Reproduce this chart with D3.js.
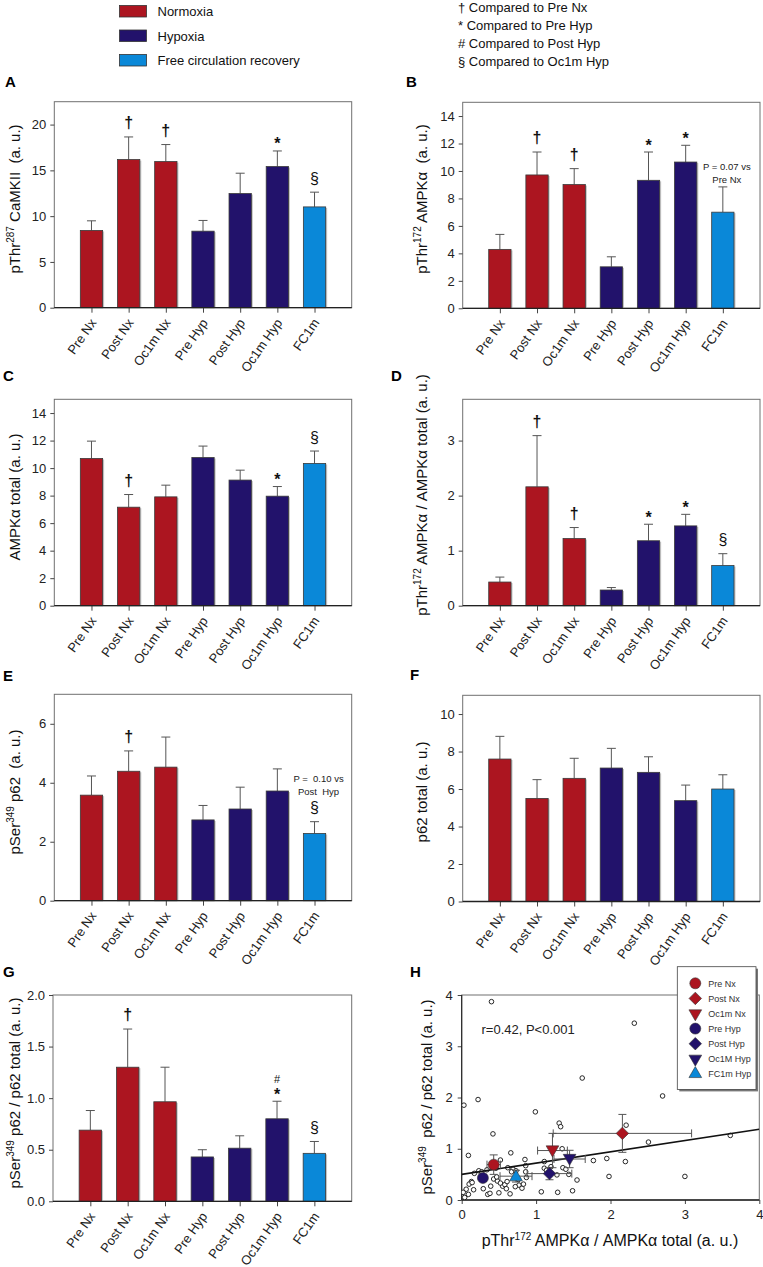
<!DOCTYPE html>
<html><head><meta charset="utf-8">
<script src="https://cdn.jsdelivr.net/npm/d3@7"></script>
<style>
body{margin:0;background:#fff;}
svg text{font-family:"Liberation Sans",Arial,Helvetica,sans-serif;}
</style></head><body>
<svg id="c" width="763" height="1267"></svg>
<script>
// ---------- DATA ----------
const categories = ["Pre Nx","Post Nx","Oc1m Nx","Pre Hyp","Post Hyp","Oc1m Hyp","FC1m"];
const groups = ["Normoxia","Normoxia","Normoxia","Hypoxia","Hypoxia","Hypoxia","Free circulation recovery"];
const legendLabels = ["Normoxia","Hypoxia","Free circulation recovery"];
const sigLegend = ["† Compared to Pre Nx","* Compared to Pre Hyp","# Compared to Post Hyp","§ Compared to Oc1m Hyp"];

// A: pThr287 CaMKII
const camkiiMean = [8.44,16.18,15.96,8.36,12.47,15.42,11.01];
const camkiiSem  = [1.05,2.47,1.86,1.17,2.22,1.70,1.61];
const camkiiSig  = ["","†","†","","","*","§"];
const camkiiTicks = [0,5,10,15,20];
// B: pThr172 AMPKa
const pAmpkMean = [4.29,9.71,9.01,3.02,9.32,10.65,7.00];
const pAmpkSem  = [1.09,1.67,1.16,0.73,2.06,1.22,1.84];
const pAmpkSig  = ["","†","†","","*","*",""];
const pAmpkTicks = [0,2,4,6,8,10,12,14];
const pAmpkNote = ["P = 0.07 vs","Pre Nx"];
// C: AMPKa total
const ampkMean = [10.70,7.16,7.91,10.77,9.13,7.96,10.34];
const ampkSem  = [1.26,0.92,0.85,0.83,0.72,0.70,0.90];
const ampkSig  = ["","†","","","","*","§"];
const ampkTicks = [0,2,4,6,8,10,12,14];
// D: pThr172 AMPKa / AMPKa total
const ratioAmpkMean = [0.43,2.16,1.22,0.285,1.18,1.45,0.73];
const ratioAmpkSem  = [0.09,0.93,0.20,0.045,0.30,0.21,0.215];
const ratioAmpkSig  = ["","†","†","","*","*","§"];
const ratioAmpkTicks = [0,1,2,3];
// E: pSer349 p62
const pP62Mean = [3.58,4.39,4.53,2.74,3.11,3.72,2.28];
const pP62Sem  = [0.65,0.69,1.02,0.49,0.74,0.75,0.40];
const pP62Sig  = ["","†","","","","","§"];
const pP62Ticks = [0,2,4,6];
const pP62Note = ["P =  0.10 vs","Post  Hyp"];
// F: p62 total
const p62Mean = [7.60,5.50,6.57,7.12,6.89,5.38,6.00];
const p62Sem  = [1.21,1.00,1.07,1.05,0.83,0.83,0.76];
const p62Sig  = ["","","","","","",""];
const p62Ticks = [0,2,4,6,8,10];
// G: pSer349 p62 / p62 total
const ratioP62Mean = [0.69,1.30,0.965,0.43,0.515,0.80,0.465];
const ratioP62Sem  = [0.19,0.37,0.335,0.07,0.12,0.17,0.115];
const ratioP62Sig  = ["","†","","","","*#","§"];
const ratioP62Ticks = [0,0.5,1.0,1.5,2.0];
// H: scatter (individual values) + group means (D vs G)
const scatterX = [0.40,2.32,1.62,2.70,0.03,0.22,0.99,1.31,1.33,0.42,2.21,2.51,3.61,0.09,0.66,1.35,0.52,0.85,1.11,1.77,1.95,2.20,1.98,3.00,0.62,0.69,0.73,0.86,0.86,1.11,1.14,1.20,1.36,1.40,1.28,1.44,1.55,1.49,1.29,1.07,0.23,0.17,0.13,0.10,0.06,0.02,0.04,0.09,0.16,0.29,0.35,0.38,0.39,0.43,0.48,0.50,0.55,0.58,0.61,0.60,0.65,0.67,0.76,0.77,0.81,0.83,0.87,0.34,0.27,0.14,0.47,0.52,0.72,0.46];
const scatterY = [3.87,3.45,2.38,2.03,1.85,1.96,1.72,1.50,1.43,1.29,1.46,1.13,1.26,0.87,0.92,1.00,0.78,0.79,0.75,0.77,0.81,0.75,0.46,0.46,0.63,0.60,0.57,0.67,0.55,0.62,0.58,0.65,0.63,0.60,0.49,0.50,0.39,0.18,0.15,0.16,0.57,0.52,0.36,0.31,0.21,0.15,0.05,0.11,0.20,0.22,0.11,0.13,0.27,0.41,0.37,0.14,0.27,0.30,0.36,0.22,0.12,0.55,0.40,0.29,0.23,0.31,0.44,0.59,0.55,0.34,0.45,0.33,0.26,0.62];
const fitX = [0,4];
const fitY = [0.50,1.38];
const scatterTicks = [0,1,2,3,4];
const scatterLegend = ["Pre Nx","Post Nx","Oc1m Nx","Pre Hyp","Post Hyp","Oc1M Hyp","FC1m Hyp"];
const scatterShapes = ["circle","diamond","triDown","circle","diamond","triDown","triUp"];
const statText = "r=0.42, P<0.001";

// ---------- STYLE ----------
const colors = {"Normoxia":"#ac1520","Hypoxia":"#22126b","Free circulation recovery":"#0a88d8"};
const svg = d3.select("#c");
const FONT_TICK = 13;

function addRichText(sel, parts){
  parts.forEach(p=>{
    if(p[1]==="sup"){
      sel.append("tspan").attr("dy",-6).attr("font-size",10).text(p[0]);
    } else if(p[1]==="after"){
      sel.append("tspan").attr("dy",6).text(p[0]);
    } else sel.append("tspan").text(p[0]);
  });
}

// ---------- TOP LEGENDS ----------
legendLabels.forEach((l,i)=>{
  svg.append("rect").attr("x",119.5).attr("y",5.5+i*24.5).attr("width",27).attr("height",11.5)
    .attr("fill",colors[l]).attr("stroke","#333").attr("stroke-width",0.8);
  svg.append("text").attr("x",157.5).attr("y",16+i*24.5).attr("font-size",13).attr("fill","#111").text(l);
});
sigLegend.forEach((l,i)=>{
  svg.append("text").attr("x",458).attr("y",11.5+i*18.3).attr("font-size",13).attr("fill","#111").text(l);
});

// ---------- BAR PANELS ----------
const symOff = {"†":9,"*":1.5,"§":8.5,"#":3};
function barPanel(p){
  const g = svg.append("g");
  const x = d3.scalePoint().domain(categories).range([p.x0,p.x1]).padding(1);
  const y = d3.scaleLinear().domain([0,p.max]).range([p.y1,p.y0]);
  const bw = x.step()*0.6;
  g.append("rect").attr("x",p.x0).attr("y",p.y0).attr("width",p.x1-p.x0).attr("height",p.y1-p.y0)
    .attr("fill","none").attr("stroke","#707070").attr("stroke-width",1);
  // error bars
  const eb = g.selectAll(".eb").data(p.mean).join("g");
  eb.append("line").attr("x1",(d,i)=>x(categories[i])).attr("x2",(d,i)=>x(categories[i]))
    .attr("y1",d=>y(d)).attr("y2",(d,i)=>y(d+p.sem[i])).attr("stroke","#555").attr("stroke-width",1);
  eb.append("line").attr("x1",(d,i)=>x(categories[i])-4.5).attr("x2",(d,i)=>x(categories[i])+4.5)
    .attr("y1",(d,i)=>y(d+p.sem[i])).attr("y2",(d,i)=>y(d+p.sem[i])).attr("stroke","#555").attr("stroke-width",1);
  // shadows
  g.selectAll(".sh").data(p.mean).join("rect")
    .attr("x",(d,i)=>x(categories[i])-bw/2+1.5).attr("y",d=>y(d)+1).attr("width",bw).attr("height",d=>p.y1-y(d)-1)
    .attr("fill","#c4c4c4");
  // bars
  g.selectAll(".bar").data(p.mean).join("rect")
    .attr("x",(d,i)=>x(categories[i])-bw/2).attr("y",d=>y(d)).attr("width",bw).attr("height",d=>p.y1-y(d))
    .attr("fill",(d,i)=>colors[groups[i]]).attr("stroke","#3a3a3a").attr("stroke-width",0.8);
  // y axis
  const ya = g.append("g").attr("transform",`translate(${p.x0},0)`)
    .call(d3.axisLeft(y).tickValues(p.ticks).tickSize(4).tickPadding(4).tickFormat(p.fmt||d3.format("d")));
  ya.select(".domain").remove();
  ya.selectAll("line").attr("stroke","#444");
  ya.selectAll("text").attr("font-size",FONT_TICK).attr("fill","#222").attr("font-family",null);
  // x axis
  const xa = g.append("g").attr("transform",`translate(0,${p.y1})`).call(d3.axisBottom(x).tickSize(5).tickSizeOuter(0));
  xa.select(".domain").remove();
  xa.selectAll("line").attr("stroke","#444");
  xa.selectAll("text").attr("y",0).attr("dy",0).attr("text-anchor","end")
    .attr("transform","translate(5,15) rotate(-55)").attr("font-size",FONT_TICK).attr("fill","#222").attr("font-family",null);
  g.append("line").attr("x1",p.x0).attr("x2",p.x1).attr("y1",p.y1).attr("y2",p.y1).attr("stroke","#222").attr("stroke-width",1.3);
  // significance
  p.sig.forEach((s,i)=>{
    if(!s) return;
    const top = y(p.mean[i]+p.sem[i]);
    const base = top - symOff[s[0]];
    [...s].forEach((c,k)=>{
      g.append("text").attr("x",x(categories[i])).attr("y",base-17*k).attr("text-anchor","middle")
        .attr("font-size",c==="#"?11:16).attr("font-weight",(c==="†"||c==="*")?"bold":"normal")
        .attr("fill","#111").text(c);
    });
  });
  // notes
  if(p.note){
    const i = categories.length-1;
    const top = y(p.mean[i]+p.sem[i]);
    const bottomBase = p.noteBase(top);
    p.note.forEach((t,k)=>{
      g.append("text").attr("x",x(categories[i])+p.noteDx).attr("y",bottomBase-(p.note.length-1-k)*13.3)
        .attr("text-anchor","middle").attr("font-size",9.5).attr("fill","#222")
        .style("white-space","pre").text(t);
    });
  }
  // y label
  const yl = g.append("text").attr("transform",`translate(${p.lx},${p.ly}) rotate(-90)`)
    .attr("text-anchor","middle").attr("dy","0.35em").attr("font-size",15).attr("fill","#111").style("white-space","pre");
  addRichText(yl,p.label);
  // letter
  svg.append("text").attr("x",p.letter[0]).attr("y",p.letter[1]).attr("font-size",15).attr("font-weight","bold").text(p.id);
}

const L = {x0:54.3,x1:351.7}, R = {x0:462.7,x1:760};
barPanel({id:"A",...L,y0:101.7,y1:307.7,max:22.5,ticks:camkiiTicks,mean:camkiiMean,sem:camkiiSem,sig:camkiiSig,
  lx:15,ly:199,letter:[5,87],label:[["pThr",""],["287","sup"],[" CaMKII  (a. u.)","after"]]});
barPanel({id:"B",...R,y0:102.3,y1:308.3,max:15,ticks:pAmpkTicks,mean:pAmpkMean,sem:pAmpkSem,sig:pAmpkSig,
  note:pAmpkNote,noteDx:4,noteBase:t=>t-4,
  lx:421.7,ly:199,letter:[406,87],label:[["pThr",""],["172","sup"],[" AMPKα  (a. u.)","after"]]});
barPanel({id:"C",...L,y0:399.3,y1:605.7,max:15,ticks:ampkTicks,mean:ampkMean,sem:ampkSem,sig:ampkSig,
  lx:15,ly:497,letter:[3,381],label:[["AMPKα total (a. u.)",""]]});
barPanel({id:"D",...R,y0:399.3,y1:605.7,max:3.75,ticks:ratioAmpkTicks,mean:ratioAmpkMean,sem:ratioAmpkSem,sig:ratioAmpkSig,
  lx:421.7,ly:495,letter:[391,381],label:[["pThr",""],["172","sup"],[" AMPKα / AMPKα total (a. u.)","after"]]});
barPanel({id:"E",...L,y0:694.3,y1:900.7,max:7,ticks:pP62Ticks,mean:pP62Mean,sem:pP62Sem,sig:pP62Sig,
  note:pP62Note,noteDx:4,noteBase:t=>t-8.5-18,
  lx:15,ly:792,letter:[3,681],label:[["pSer",""],["349","sup"],[" p62  (a. u.)","after"]]});
barPanel({id:"F",...R,y0:695.3,y1:901.5,max:11,ticks:p62Ticks,mean:p62Mean,sem:p62Sem,sig:p62Sig,
  lx:421.7,ly:792,letter:[410,680],label:[["p62 total (a. u.)",""]]});
barPanel({id:"G",x0:53,x1:351.7,y0:995,y1:1201.3,max:2,ticks:ratioP62Ticks,fmt:d3.format(".1f"),mean:ratioP62Mean,sem:ratioP62Sem,sig:ratioP62Sig,
  lx:15,ly:1093,letter:[3,977],label:[["pSer",""],["349","sup"],[" p62 / p62 total (a. u.)","after"]]});

// ---------- SCATTER PANEL H ----------
(function(){
  const x0=461.7,x1=759.3,y0=995,y1=1200;
  const g = svg.append("g");
  const x = d3.scaleLinear().domain([0,4]).range([x0,x1]);
  const y = d3.scaleLinear().domain([0,4]).range([y1,y0]);
  g.append("rect").attr("x",x0).attr("y",y0).attr("width",x1-x0).attr("height",y1-y0)
    .attr("fill","none").attr("stroke","#707070").attr("stroke-width",1);
  svg.append("clipPath").attr("id","clipH").append("rect").attr("x",x0).attr("y",y0).attr("width",x1-x0).attr("height",y1-y0);
  // axes
  const ya = g.append("g").attr("transform",`translate(${x0},0)`).call(d3.axisLeft(y).tickValues(scatterTicks).tickSize(4).tickPadding(5).tickFormat(d3.format("d")));
  ya.select(".domain").remove();
  ya.selectAll("text").attr("font-size",FONT_TICK).attr("fill","#222").attr("font-family",null);
  ya.selectAll("line").attr("stroke","#444");
  const xa = g.append("g").attr("transform",`translate(0,${y1})`).call(d3.axisBottom(x).tickValues(scatterTicks).tickSize(4).tickPadding(6).tickFormat(d3.format("d")));
  xa.select(".domain").remove();
  xa.selectAll("text").attr("font-size",FONT_TICK).attr("fill","#222").attr("font-family",null);
  xa.selectAll("line").attr("stroke","#444");
  g.append("line").attr("x1",x0).attr("x2",x1).attr("y1",y1).attr("y2",y1).attr("stroke","#222").attr("stroke-width",1.3);
  g.append("line").attr("x1",x0).attr("x2",x0).attr("y1",y0).attr("y2",y1).attr("stroke","#222").attr("stroke-width",1.1);
  // individual points
  g.append("g").attr("clip-path","url(#clipH)").selectAll("circle").data(scatterX).join("circle")
    .attr("cx",d=>x(d)).attr("cy",(d,i)=>y(scatterY[i])).attr("r",2.3)
    .attr("fill","#fff").attr("stroke","#111").attr("stroke-width",0.9);
  // fit line
  g.append("path").attr("clip-path","url(#clipH)")
    .attr("d",d3.line().x(d=>x(d)).y((d,i)=>y(fitY[i]))(fitX))
    .attr("stroke","#111").attr("stroke-width",1.6).attr("fill","none");
  // mean error bars
  const eb = g.append("g").attr("stroke","#555").attr("stroke-width",1);
  categories.forEach((c,i)=>{
    const mx=ratioAmpkMean[i], my=ratioP62Mean[i], sx=ratioAmpkSem[i], sy=ratioP62Sem[i];
    eb.append("line").attr("x1",x(mx-sx)).attr("x2",x(mx+sx)).attr("y1",y(my)).attr("y2",y(my));
    eb.append("line").attr("x1",x(mx)).attr("x2",x(mx)).attr("y1",y(my-sy)).attr("y2",y(my+sy));
    [mx-sx,mx+sx].forEach(v=>eb.append("line").attr("x1",x(v)).attr("x2",x(v)).attr("y1",y(my)-4).attr("y2",y(my)+4));
    [my-sy,my+sy].forEach(v=>eb.append("line").attr("x1",x(mx)-4).attr("x2",x(mx)+4).attr("y1",y(v)).attr("y2",y(v)));
  });
  function shape(sel,kind){
    if(kind==="circle") sel.attr("d",d3.symbol(d3.symbolCircle,95)());
    else if(kind==="diamond") sel.attr("d",d3.symbol(d3.symbolSquare,78)()).attr("data-rot",45);
    else if(kind==="triDown") sel.attr("d",d3.symbol(d3.symbolTriangle,70)()).attr("data-rot",180);
    else sel.attr("d",d3.symbol(d3.symbolTriangle,70)()).attr("data-rot",0);
    return sel;
  }
  categories.forEach((c,i)=>{
    const s = shape(g.append("path"),scatterShapes[i]);
    const rot = +s.attr("data-rot")||0;
    const dy = scatterShapes[i]==="triDown"?-1:(scatterShapes[i]==="triUp"?1:0);
    s.attr("transform",`translate(${x(ratioAmpkMean[i])},${y(ratioP62Mean[i])+dy}) rotate(${rot})`)
      .attr("fill",colors[groups[i]]).attr("stroke","#333").attr("stroke-width",0.6);
  });
  // stat text
  g.append("text").attr("x",481.5).attr("y",1034).attr("font-size",13).attr("fill","#222").text(statText);
  // legend
  g.append("rect").attr("x",679.3).attr("y",968.7).attr("width",78.7).attr("height",122.7).attr("fill","#777");
  g.append("rect").attr("x",677.3).attr("y",966.7).attr("width",78.7).attr("height",122.7).attr("fill","#fff").attr("stroke","#444").attr("stroke-width",0.8);
  scatterLegend.forEach((l,i)=>{
    const cy = 983.3+i*15.1;
    const s = shape(g.append("path"),scatterShapes[i]);
    const rot = +s.attr("data-rot")||0;
    s.attr("transform",`translate(695.3,${cy}) rotate(${rot})`).attr("fill",colors[groups[i]]).attr("stroke","#333").attr("stroke-width",0.6);
    g.append("text").attr("x",708.3).attr("y",cy+3.3).attr("font-size",9).attr("fill","#333").text(l);
  });
  // labels
  const yl = g.append("text").attr("transform",`translate(426.7,1097) rotate(-90)`)
    .attr("text-anchor","middle").attr("dy","0.35em").attr("font-size",15).attr("fill","#111").style("white-space","pre");
  addRichText(yl,[["pSer",""],["349","sup"],["  p62 / p62 total (a. u.)","after"]]);
  const xl = g.append("text").attr("x",610).attr("y",1246).attr("text-anchor","middle").attr("font-size",16).attr("fill","#111").style("white-space","pre");
  addRichText(xl,[["pThr",""],["172","sup"],[" AMPKα / AMPKα total (a. u.)","after"]]);
  svg.append("text").attr("x",410).attr("y",977).attr("font-size",15).attr("font-weight","bold").text("H");
})();
</script>
</body></html>
